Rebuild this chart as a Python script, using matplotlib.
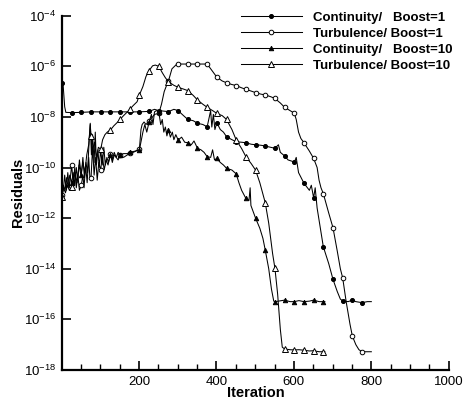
import numpy as np
import matplotlib
matplotlib.use("Agg")
import matplotlib.pyplot as plt
from matplotlib.ticker import FixedLocator, MultipleLocator, NullLocator

plt.rcParams['font.family'] = ['Liberation Sans', 'DejaVu Sans']
plt.rcParams['mathtext.fontset'] = 'custom'
plt.rcParams['mathtext.rm'] = 'Liberation Sans'

# ---------------- data (iteration, log10 residual) ----------------
c1_it = [1, 4, 8, 11, 26, 51, 76, 101, 126, 151, 176, 201, 226, 240, 251, 276, 290, 301,
         315, 326, 340, 351, 365, 376, 385, 388, 392, 396, 401, 410, 418, 426, 440, 451,
         465, 476, 490, 501, 515, 526, 540, 551, 560, 565, 576, 585, 595, 601, 606, 612,
         626, 640, 645, 651, 655, 660, 676, 690, 701, 712, 720, 726, 740, 751, 760, 776,
         790, 800]
c1_lg = [-6.67, -6.75, -7.6, -7.82, -7.83, -7.82, -7.8, -7.8, -7.8, -7.8, -7.8, -7.8,
         -7.78, -7.7, -7.75, -7.79, -7.7, -7.75, -7.95, -8.1, -8.15, -8.25, -8.3, -8.39,
         -7.75, -8.4, -7.9, -8.5, -8.23, -8.5, -8.6, -8.78, -8.9, -8.98, -9.0, -9.02,
         -9.08, -9.1, -9.12, -9.15, -9.2, -9.24, -9.1, -9.4, -9.54, -9.7, -9.75, -9.8,
         -9.6, -10.2, -10.62, -10.9, -10.7, -11.2, -10.8, -11.6, -13.13, -13.8, -14.42,
         -14.9, -15.2, -15.27, -15.3, -15.24, -15.3, -15.34, -15.3, -15.3]

t1_it = [1, 5, 8, 12, 16, 20, 26, 30, 34, 38, 42, 46, 51, 55, 58, 62, 66, 70, 73, 76,
         80, 84, 88, 92, 96, 101, 105, 110, 115, 120, 126, 131, 136, 141, 146, 151, 160,
         170, 176, 185, 192, 201, 205, 208, 213, 218, 226, 235, 240, 251, 258, 265, 270,
         276, 285, 295, 301, 326, 351, 376, 390, 401, 415, 426, 440, 451, 465, 476, 490,
         501, 515, 526, 540, 551, 565, 576, 590, 601, 606, 612, 618, 626, 640, 651, 660,
         665, 670, 676, 690, 701, 712, 720, 726, 735, 745, 751, 760, 768, 776, 800]
t1_lg = [-11.1, -10.8, -10.3, -10.9, -10.2, -10.8, -9.9, -10.6, -10.0, -10.8, -10.3,
         -10.9, -10.69, -10.3, -10.8, -9.9, -10.6, -9.6, -10.4, -10.43, -9.2, -10.3, -9.6,
         -10.5, -9.8, -10.1, -9.5, -10.1, -9.7, -9.9, -9.45, -9.8, -9.5, -9.6, -9.7, -9.5,
         -9.6, -9.5, -9.42, -9.4, -9.35, -9.26, -8.5, -8.3, -8.2, -8.3, -8.15, -8.0, -7.9,
         -7.86, -7.5, -7.0, -6.8, -6.58, -6.1, -5.95, -5.91, -5.91, -5.91, -5.91, -6.2,
         -6.43, -6.58, -6.65, -6.72, -6.76, -6.85, -6.91, -6.98, -7.04, -7.1, -7.13, -7.2,
         -7.27, -7.45, -7.62, -7.75, -7.85, -8.1, -8.6, -8.85, -9.02, -9.35, -9.64, -10.0,
         -10.5, -10.8, -11.03, -11.8, -12.38, -13.3, -14.0, -14.36, -15.3, -16.2, -16.66,
         -17.0, -17.2, -17.28, -17.28]

c10_it = [1, 5, 9, 13, 17, 21, 26, 30, 34, 38, 42, 46, 51, 55, 59, 63, 67, 71, 74, 77,
          80, 84, 87, 90, 94, 97, 101, 105, 109, 113, 117, 121, 126, 131, 136, 141, 146,
          151, 160, 170, 176, 190, 201, 210, 215, 220, 226, 232, 236, 240, 245, 251, 256,
          260, 264, 268, 272, 276, 281, 286, 290, 295, 301, 310, 318, 326, 335, 342, 351,
          360, 368, 376, 385, 390, 395, 401, 410, 418, 426, 440, 451, 458, 465, 476, 484,
          487, 489, 501, 512, 520, 526, 535, 542, 548, 551, 560, 576, 590, 601, 613, 626,
          640, 651, 665, 676, 680]
c10_lg = [-11.15, -10.7, -10.9, -10.4, -10.8, -10.3, -10.6, -10.2, -10.7, -10.0, -10.5,
          -9.7, -10.3, -9.6, -10.4, -9.8, -10.2, -9.0, -8.25, -9.5, -8.7, -9.8, -8.6,
          -9.9, -9.3, -10.0, -9.3, -9.9, -9.2, -9.9, -9.6, -9.8, -9.5, -9.7, -9.4, -9.6,
          -9.4, -9.5, -9.45, -9.45, -9.4, -9.35, -9.3, -8.6, -8.3, -8.6, -8.2, -7.9, -8.3,
          -7.8, -7.75, -7.8, -8.3, -8.1, -8.6, -8.4, -8.75, -8.5, -8.8, -8.6, -8.9, -8.7,
          -8.91, -8.8, -9.0, -9.02, -9.1, -8.95, -9.24, -9.3, -9.4, -9.57, -9.6, -9.3,
          -9.7, -9.64, -9.8, -9.9, -10.03, -10.1, -10.25, -10.6, -10.9, -11.22, -11.3,
          -10.8, -11.5, -12.0, -12.4, -12.8, -13.26, -14.0, -14.8, -15.28, -15.3, -15.28,
          -15.24, -15.3, -15.3, -15.26, -15.3, -15.28, -15.24, -15.3, -15.3, -15.3]

t10_it = [1, 5, 10, 15, 20, 26, 31, 35, 40, 45, 50, 55, 60, 65, 70, 74, 76, 80, 85, 90,
          95, 101, 106, 112, 118, 126, 135, 145, 151, 160, 170, 176, 185, 195, 201, 210,
          218, 226, 235, 242, 251, 260, 268, 276, 290, 301, 315, 326, 340, 351, 365, 376,
          390, 401, 415, 426, 440, 451, 465, 476, 490, 501, 512, 526, 535, 545, 551, 558,
          565, 570, 576, 590, 601, 613, 626, 640, 651, 665, 676, 680]
t10_lg = [-11.15, -10.8, -11.0, -10.7, -10.9, -10.76, -10.5, -10.2, -10.6, -9.9, -10.3,
          -9.8, -10.2, -9.5, -9.1, -8.3, -8.75, -9.3, -9.0, -9.6, -9.2, -9.28, -8.9, -8.7,
          -8.6, -8.52, -8.35, -8.2, -8.1, -7.95, -7.8, -7.7, -7.55, -7.4, -7.13, -6.8,
          -6.4, -6.17, -5.98, -5.95, -6.0, -6.25, -6.45, -6.61, -6.75, -6.83, -6.9, -6.96,
          -7.15, -7.33, -7.5, -7.62, -7.75, -7.86, -7.95, -8.1, -8.5, -8.91, -9.25, -9.57,
          -9.85, -10.1, -10.6, -11.39, -12.2, -13.4, -13.98, -15.0, -16.4, -17.1, -17.17,
          -17.2, -17.21, -17.2, -17.22, -17.25, -17.24, -17.28, -17.28, -17.28]

labels = ['Continuity/   Boost=1', 'Turbulence/ Boost=1',
          'Continuity/   Boost=10', 'Turbulence/ Boost=10']
markers = ['o', 'o', '^', '^']
filled = [True, False, True, False]
msizes = [2.9, 3.3, 3.2, 4.0]

yticks_exp = [-4, -6, -8, -10, -12, -14, -16, -18]
xticks = [200, 400, 600, 800, 1000]

# ---------------- plot ----------------
fig = plt.figure(figsize=(4.66, 4.03), dpi=100)
ax = fig.add_axes([0.133, 0.082, 0.830, 0.879])

series = [(c1_it, c1_lg), (t1_it, t1_lg), (c10_it, c10_lg), (t10_it, t10_lg)]
for (it, lg), lab, mk, fl, ms in zip(series, labels, markers, filled, msizes):
    it = np.asarray(it)
    y = 10.0 ** np.asarray(lg)
    mask = ((it - 1) % 25 == 0)
    ax.plot(it, y, color='black', lw=0.75, marker=mk, markevery=list(mask),
            ms=ms, mfc='black' if fl else 'white', mec='black', mew=0.7, label=lab)

ax.set_yscale('log')
ax.set_xlim(1, 1000)
ax.set_ylim(1e-18, 1e-4)
ax.yaxis.set_major_locator(FixedLocator([10.0 ** e for e in yticks_exp]))
ax.yaxis.set_minor_locator(NullLocator())
ax.set_yticklabels([r'$\mathregular{10^{%d}}$' % e for e in yticks_exp])
ax.xaxis.set_major_locator(FixedLocator(xticks))
ax.xaxis.set_minor_locator(MultipleLocator(50))
ax.set_xticklabels([str(v) for v in xticks])

for s in ['top', 'right']:
    ax.spines[s].set_visible(False)
for s in ['left', 'bottom']:
    ax.spines[s].set_linewidth(1.6)

ax.tick_params(axis='both', which='major', direction='in', length=6.5, width=1.2,
               labelsize=9.5, pad=4)
ax.tick_params(axis='both', which='minor', direction='in', length=4, width=1.0)

ax.set_xlabel('Iteration', fontsize=10.5, fontweight='bold', labelpad=-1)
ax.set_ylabel('Residuals', fontsize=10.5, fontweight='bold', labelpad=-1)

leg = ax.legend(loc='upper right', bbox_to_anchor=(0.972, 0.972), bbox_transform=fig.transFigure,
                frameon=False, handlelength=4.6, handletextpad=0.9, labelspacing=0.3,
                borderaxespad=0.0, borderpad=0.0,
                prop={'size': 9.5, 'weight': 'bold'})

fig.savefig('out.png', dpi=100)
